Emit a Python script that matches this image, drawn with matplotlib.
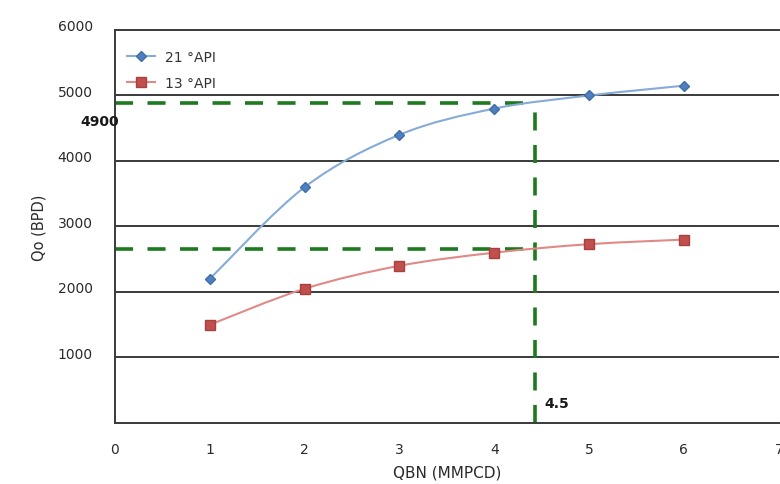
import matplotlib
matplotlib.use("Agg")
import matplotlib.pyplot as plt
import matplotlib.transforms as mtransforms
from matplotlib.path import Path
from matplotlib.patches import PathPatch
import numpy as np

plt.rcParams['font.family'] = ['DejaVu Sans']

# ---------------------------------------------------------------------------
# Data
# ---------------------------------------------------------------------------
qbn = [1, 2, 3, 4, 5, 6]
qo_21api = [2200, 3600, 4400, 4800, 5000, 5150]
qo_13api = [1500, 2050, 2400, 2600, 2730, 2800]

read_x = 4.43
read_y_21 = 4880
read_y_13 = 2650

xticks = [0, 1, 2, 3, 4, 5, 6, 7]
yticks = [0, 1000, 2000, 3000, 4000, 5000, 6000]
ytick_labels = ['', '1000', '2000', '3000', '4000', '5000', '6000']

blue_line, blue_mark = '#86ABD8', '#4F7FBF'
red_line, red_mark = '#E08A88', '#C0504D'


def smooth_path(xs, ys, t=1 / 6):
    """Catmull-Rom style bezier through the points (Excel 'smoothed line')."""
    pts = np.column_stack([xs, ys]).astype(float)
    verts = [pts[0]]
    codes = [Path.MOVETO]
    n = len(pts)
    for i in range(n - 1):
        p0 = pts[max(i - 1, 0)]
        p1 = pts[i]
        p2 = pts[i + 1]
        p3 = pts[min(i + 2, n - 1)]
        c1 = p1 + (p2 - p0) * t
        c2 = p2 - (p3 - p1) * t
        verts += [c1, c2, p2]
        codes += [Path.CURVE4] * 3
    return Path(verts, codes)


fig = plt.figure(figsize=(7.8, 4.85), dpi=100)
ax = fig.add_axes([0.1474, 0.1258, 0.851, 0.8103])

# gridlines
for yv in yticks[1:-1]:
    ax.axhline(yv, color='#3a3a3a', linewidth=1.4, zorder=1)

# reading lines
dash = dict(color='#1E7A1E', linewidth=2.6, dashes=(5, 4), zorder=2)
ax.plot([0, read_x], [read_y_21, read_y_21], **dash)
ax.plot([0, read_x], [read_y_13, read_y_13], **dash)
ax.plot([read_x, read_x], [0, read_y_21], **dash)

# series
ax.add_patch(PathPatch(smooth_path(qbn, qo_21api), facecolor='none',
                       edgecolor=blue_line, linewidth=1.5, zorder=3))
ax.add_patch(PathPatch(smooth_path(qbn, qo_13api), facecolor='none',
                       edgecolor=red_line, linewidth=1.5, zorder=3))
ax.plot(qbn, qo_21api, linestyle='none', marker='D', markersize=5.5,
        color=blue_mark, markeredgecolor='#3F6FA8', zorder=4)
ax.plot(qbn, qo_13api, linestyle='none', marker='s', markersize=7,
        color=red_mark, markeredgecolor='#A84040', zorder=4)

# legend handles
ax.plot([], [], color=blue_line, marker='D', markersize=5.5,
        markerfacecolor=blue_mark, markeredgecolor='#3F6FA8', label='21 °API')
ax.plot([], [], color=red_line, marker='s', markersize=7,
        markerfacecolor=red_mark, markeredgecolor='#A84040', label='13 °API')
ax.legend(loc='upper left', bbox_to_anchor=(0.0, 0.98), frameon=False,
          fontsize=10, handlelength=2.0, labelspacing=0.85, handletextpad=0.7,
          labelcolor='#333333')

# annotations
ax.text(-0.36, read_y_21 - 270, '4900', fontsize=10, fontweight='bold',
        ha='left', va='center', color='#1a1a1a', clip_on=False)
ax.text(read_x + 0.1, 300, '4.5', fontsize=10, fontweight='bold',
        ha='left', va='center', color='#1a1a1a')

ax.set_xlim(0, 7)
ax.set_ylim(0, 6000)
ax.set_xticks(xticks)
ax.set_yticks(yticks)
ax.set_yticklabels(ytick_labels)
ax.tick_params(axis='both', length=0, labelsize=10, colors='#2a2a2a')
ax.tick_params(axis='y', pad=16)
ax.tick_params(axis='x', pad=14)

offset = mtransforms.ScaledTranslation(0, 5 / 100, fig.dpi_scale_trans)
for lbl in ax.get_yticklabels():
    lbl.set_transform(lbl.get_transform() + offset)

for side in ['left', 'bottom', 'top']:
    ax.spines[side].set_color('#3a3a3a')
    ax.spines[side].set_linewidth(1.4)
ax.spines['right'].set_visible(False)

ax.set_xlabel('QBN (MMPCD)', fontsize=11, color='#2a2a2a', labelpad=6)
ax.set_ylabel('Qo (BPD)', fontsize=10.5, color='#2a2a2a', labelpad=8)

fig.savefig('out.png', dpi=100)
